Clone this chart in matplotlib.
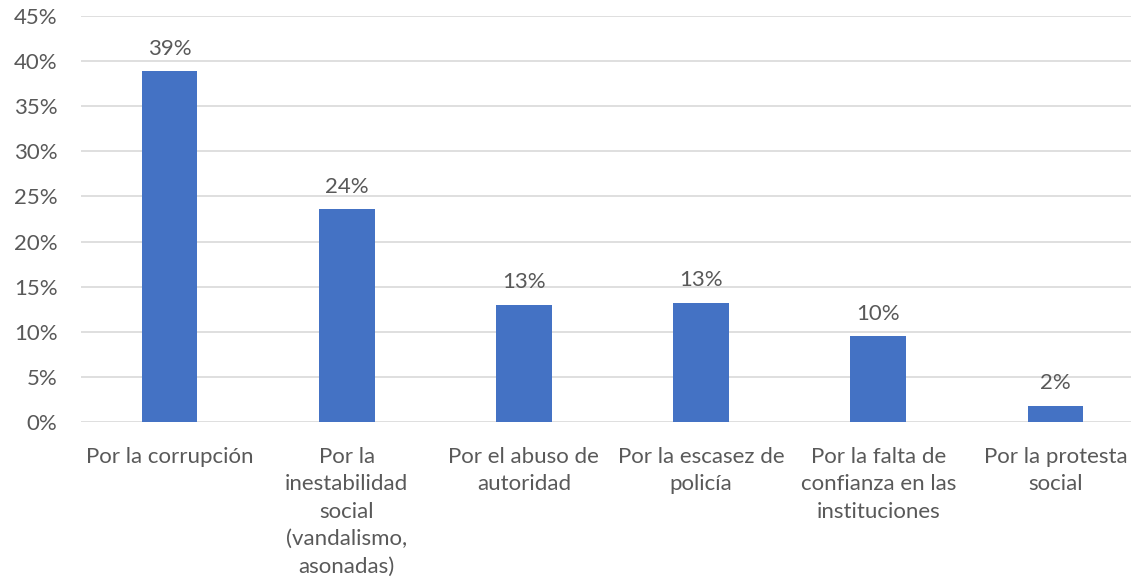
import matplotlib.pyplot as plt
from matplotlib.ticker import PercentFormatter

categories = ["Por la corrupción",
              "Por la\ninestabilidad\nsocial\n(vandalismo,\nasonadas)",
              "Por el abuso de\nautoridad",
              "Por la escasez de\npolicía",
              "Por la falta de\nconfianza en las\ninstituciones",
              "Por la protesta\nsocial"]
values = [0.389, 0.236, 0.130, 0.132, 0.095, 0.018]
yticks = [0, 0.05, 0.10, 0.15, 0.20, 0.25, 0.30, 0.35, 0.40, 0.45]

text_color = "#595959"
plt.rcParams['font.family'] = ['Lato', 'DejaVu Sans']

fig = plt.figure(figsize=(11.31, 5.82), dpi=100)
ax = fig.add_axes([81 / 1131, 160 / 582, 1063 / 1131, 406 / 582])

x = range(len(categories))
bars = ax.bar(x, values, width=0.314, color="#4472C4", zorder=3)

# data labels above the bars
for b, v in zip(bars, values):
    ax.annotate("{:.0f}%".format(v * 100), (b.get_x() + b.get_width() / 2, v),
                xytext=(0, 9), textcoords="offset points", ha="center", va="bottom",
                fontsize=16, color=text_color)

ax.set_xlim(-0.5, len(categories) - 0.5)
ax.set_ylim(0, 0.45)
ax.set_yticks(yticks)
ax.yaxis.set_major_formatter(PercentFormatter(1.0, decimals=0))
ax.set_xticks(list(x))
ax.set_xticklabels(categories, linespacing=1.46)
ax.tick_params(axis='both', length=0, labelsize=16, colors=text_color)
ax.tick_params(axis='x', pad=18)
ax.tick_params(axis='y', pad=17)
ax.grid(axis='y', color="#d9d9d9", linewidth=1.2, zorder=0)
for s in ax.spines.values():
    s.set_visible(False)

fig.savefig("out.png", dpi=100)
